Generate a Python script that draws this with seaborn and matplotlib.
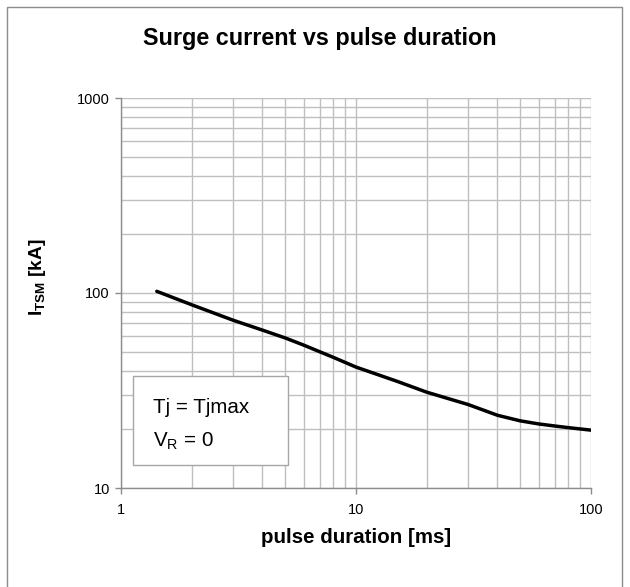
import matplotlib
matplotlib.use("Agg")
import matplotlib.pyplot as plt
import seaborn as sns
import pandas as pd
from matplotlib.patches import Rectangle
from matplotlib.ticker import FixedLocator, NullFormatter

# data
pulse_ms = [1.42, 2, 3, 4, 5, 6, 7, 8, 10, 15, 20, 30, 40, 50, 60, 70, 80, 100]
itsm_ka = [102, 87, 72.5, 64.5, 58.8, 54.0, 50.0, 46.8, 41.7, 35.2, 31, 26.8, 23.6, 22.1, 21.3, 20.8, 20.4, 19.8]
x_ticks = [1, 10, 100]
x_ticklabels = ["1", "10", "100"]
y_ticks = [10, 100, 1000]
y_ticklabels = ["10", "100", "1000"]
title = "Surge current vs pulse duration"
xlabel = "pulse duration [ms]"
ylabel = r"I$_{\mathbf{TSM}}$ [kA]"
note1 = "Tj = Tjmax"
note2 = r"V$_\mathregular{R}$ = 0"

sns.set_style("white")
plt.rcParams["font.family"] = ["Liberation Sans", "DejaVu Sans"]
plt.rcParams["mathtext.fontset"] = "custom"
plt.rcParams["mathtext.rm"] = "Liberation Sans"
plt.rcParams["mathtext.bf"] = "Liberation Sans:bold"
plt.rcParams["mathtext.it"] = "Liberation Sans:italic"
plt.rcParams["text.color"] = "black"
plt.rcParams["axes.labelcolor"] = "black"

df = pd.DataFrame({"t": pulse_ms, "i": itsm_ka})

fig = plt.figure(figsize=(6.3, 5.87), dpi=100)
ax = fig.add_axes([121/630, 1-488/587, 470/630, 390/587])

sns.lineplot(data=df, x="t", y="i", ax=ax, color="black", linewidth=2.5, zorder=5)
ax.set_xscale("log")
ax.set_yscale("log")
ax.set_xlim(1, 100)
ax.set_ylim(10, 1000)

ax.xaxis.set_major_locator(FixedLocator(x_ticks))
ax.set_xticklabels(x_ticklabels)
ax.yaxis.set_major_locator(FixedLocator(y_ticks))
ax.set_yticklabels(y_ticklabels)
minors_x = [m * d for d in (1, 10) for m in range(2, 10)]
minors_y = [m * d for d in (10, 100) for m in range(2, 10)]
ax.xaxis.set_minor_locator(FixedLocator(minors_x))
ax.yaxis.set_minor_locator(FixedLocator(minors_y))
ax.xaxis.set_minor_formatter(NullFormatter())
ax.yaxis.set_minor_formatter(NullFormatter())

ax.grid(True, which="both", color="#bfbfbf", linewidth=1.0)
ax.set_axisbelow(True)
for s in ("top", "right"):
    ax.spines[s].set_visible(False)
for s in ("left", "bottom"):
    ax.spines[s].set_color("#8c8c8c")
    ax.spines[s].set_linewidth(1.0)
ax.tick_params(which="major", length=4, width=1, color="#8c8c8c", direction="out",
               labelsize=10.5, labelcolor="black", left=True, bottom=True, pad=4)
ax.tick_params(axis="x", which="major", pad=7)
ax.tick_params(which="minor", length=0)

ax.set_xlabel(xlabel, fontsize=14.8, fontweight="bold", labelpad=8, color="black")
ax.set_ylabel(ylabel, fontsize=13.8, fontweight="bold", color="black")
ax.yaxis.set_label_coords(-0.155, 0.54)

fig.text(320/630, 1-38/587, title, fontsize=16.8, fontweight="bold", ha="center", va="center",
         color="black")

# annotation box
ax.add_patch(Rectangle((12/470, 23/390), 155/470, 89/390, transform=ax.transAxes,
                       facecolor="white", edgecolor="#a6a6a6", linewidth=1.0, zorder=6))
ax.text(32/470, (488-413)/390, note1, transform=ax.transAxes, fontsize=14.8,
        ha="left", va="baseline", zorder=7, color="black")
ax.text(32/470, (488-447)/390, note2, transform=ax.transAxes, fontsize=14.8,
        ha="left", va="baseline", zorder=7, color="black")

# figure border
fig.patches.append(Rectangle((7/630, -0.2), 615/630, 1.2 - 7/587, transform=fig.transFigure,
                             facecolor="none", edgecolor="#8c8c8c", linewidth=1.0))

fig.savefig("out.png", dpi=100)
